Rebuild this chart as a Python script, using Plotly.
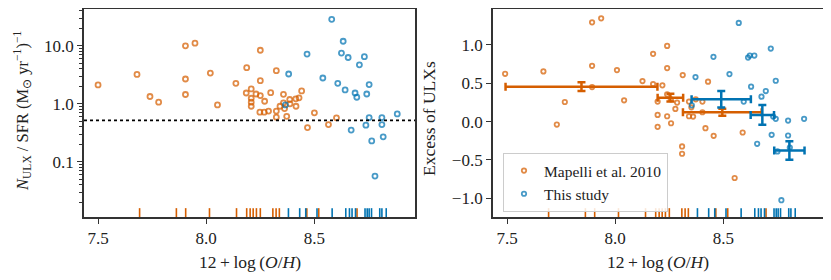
import plotly.graph_objects as go

# ---------------- data ----------------
# Left panel: N_ULX / SFR versus metallicity
m10_x_left = [7.50, 7.68, 7.74, 7.78, 7.904, 7.948, 7.904, 7.904, 8.019, 8.052,
              8.137, 8.187, 8.185, 8.208, 8.208, 8.208, 8.208, 8.23, 8.25, 8.25,
              8.25, 8.27, 8.248, 8.268, 8.288, 8.298, 8.324, 8.324, 8.324, 8.357,
              8.341, 8.357, 8.362, 8.372, 8.386, 8.387, 8.414, 8.415, 8.429, 8.441,
              8.50, 8.468, 8.565, 8.602]
m10_y_left = [2.12, 3.22, 1.34, 1.07, 10.0, 11.1, 2.68, 1.45, 3.4, 0.96,
              2.26, 4.2, 1.54, 1.81, 1.25, 1.07, 0.91, 1.48, 2.51, 8.4,
              1.39, 1.11, 0.72, 0.72, 0.75, 1.56, 3.73, 0.75, 0.59, 1.46,
              0.91, 1.04, 0.83, 0.61, 1.19, 1.0, 1.22, 0.91, 1.27, 1.67,
              0.70, 0.39, 0.44, 0.575]
this_x_left = [8.58, 8.466, 8.381, 8.366, 8.539, 8.633, 8.625, 8.656, 8.731, 8.708,
               8.608, 8.642, 8.688, 8.696, 8.753, 8.742, 8.753, 8.812, 8.883, 8.738,
               8.812, 8.67, 8.765, 8.818, 8.78]
this_y_left = [28.6, 7.2, 3.27, 0.96, 2.79, 12.0, 7.5, 6.3, 6.5, 4.7,
               2.26, 1.74, 1.54, 1.30, 2.15, 1.48, 0.58, 0.58, 0.67, 0.43,
               0.44, 0.354, 0.23, 0.27, 0.057]
threshold = 0.52

# Right panel: excess of ULXs versus metallicity
m10_x_right = [7.491, 7.668, 7.73, 7.767, 7.893, 7.935, 7.893, 7.893, 8.008, 8.041,
               8.126, 8.175, 8.175, 8.218, 8.196, 8.196, 8.196, 8.24, 8.24, 8.24,
               8.24, 8.258, 8.278, 8.286, 8.312, 8.309, 8.309, 8.341, 8.352, 8.372,
               8.403, 8.341, 8.36, 8.403, 8.429, 8.417, 8.455, 8.589, 8.552, 8.257]
m10_y_right = [0.623, 0.654, -0.039, 0.255, 1.294, 1.346, 0.727, 0.45, 0.671, 0.277,
               0.528, 0.883, 0.489, 0.472, 0.26, 0.087, -0.069, 0.987, 0.697, 0.355,
               0.069, -0.022, 0.165, 0.247, 0.606, -0.325, -0.42, 0.26, 0.186, 0.29,
               0.26, 0.069, 0.065, 0.121, 0.52, -0.087, -0.186, -0.143, -0.736, 0.29]
this_x_right = [8.571, 8.454, 8.719, 8.614, 8.622, 8.643, 8.371, 8.528, 8.742, 8.628,
                8.696, 8.676, 8.594, 8.354, 8.73, 8.742, 8.799, 8.873, 8.723, 8.799,
                8.656, 8.75, 8.807, 8.768]
this_y_right = [1.286, 0.844, 0.952, 0.835, 0.861, 0.861, 0.58, 0.619, 0.532, 0.455,
                0.398, 0.325, 0.26, 0.212, 0.065, 0.035, 0.013, 0.035, -0.173, -0.182,
                -0.29, -0.39, -0.34, -1.026]

# Binned means with errors
m10_bin_x = [7.844, 8.255, 8.495]
m10_bin_y = [0.455, 0.312, 0.121]
m10_bin_xerr = [0.351, 0.059, 0.182]
m10_bin_yerr = [0.056, 0.05, 0.045]
this_bin_x = [8.49, 8.68, 8.805]
this_bin_y = [0.29, 0.087, -0.377]
this_bin_xerr = [0.137, 0.054, 0.07]
this_bin_yerr = [0.108, 0.13, 0.12]

# Rug: metallicities of the samples
m10_rug = [7.692, 7.862, 7.905, 8.015, 8.14, 8.187, 8.203, 8.217, 8.232, 8.25,
           8.308, 8.323, 8.338, 8.465, 8.52, 8.697]
this_rug = [8.38, 8.432, 8.46, 8.512, 8.582, 8.645, 8.662, 8.674, 8.69, 8.734,
            8.744, 8.753, 8.764, 8.802, 8.812, 8.832]

x_ticks = [7.5, 8.0, 8.5]
x_tick_text = ["7.5", "8.0", "8.5"]
yl_ticks = [0.1, 1, 10]
yl_tick_text = ["0.1", "1.0", "10.0"]
yl_minor = [k * 10.0 ** e for e in (-2, -1, 0) for k in range(2, 10)] + [20, 30, 40]
yr_ticks = [-1.0, -0.5, 0.0, 0.5, 1.0]
yr_tick_text = ["\u22121.0", "\u22120.5", "0.0", "0.5", "1.0"]

x_range = [7.435, 8.965]
yl_range = [-1.95, 1.635]
yr_range = [-1.245, 1.468]

# ---------------- style ----------------
ORANGE = "rgb(213,94,0)"
BLUE = "rgb(1,115,178)"
ORANGE_M = "rgba(213,94,0,0.72)"
BLUE_M = "rgba(1,115,178,0.72)"
FONT = "Liberation Serif"
TXT = "#222222"
FRAME = "#333333"
TICK_FS = 17
TEXT_FS = 17.5
LEG_FS = 15.5
YL_FS = 16.5

OFF = 8  # page offset of the figure (body margin)
W, H = 831, 280
ML, MR, MT, MB = 84 - OFF, 831 - (824 - OFF), 9 - OFF, 280 - (217 - OFF)
PW = W - ML - MR
PH = H - MT - MB


def fx(p):
    """page x pixel -> plot-area paper fraction"""
    return (p - OFF - ML) / PW


def fy(p):
    """page y pixel -> plot-area paper fraction"""
    return (H - MB - (p - OFF)) / PH


fig = go.Figure()


def scatter(x, y, color, xa, ya, name, show, size):
    fig.add_trace(go.Scatter(
        x=x, y=y, mode="markers", name=name, showlegend=show,
        xaxis=xa, yaxis=ya,
        marker=dict(symbol="circle-open", size=size, color=color,
                    line=dict(color=color, width=1.8)),
        hoverinfo="skip"))


def rug(x, color, xa, ya):
    fig.add_trace(go.Scatter(
        x=x, y=[0.019] * len(x), mode="markers", showlegend=False,
        xaxis=xa, yaxis=ya,
        marker=dict(symbol="line-ns", size=7, color=color,
                    line=dict(color=color, width=1.6)),
        hoverinfo="skip"))


# left panel
scatter(m10_x_left, m10_y_left, ORANGE_M, "x", "y", "Mapelli et al. 2010", False, 5)
scatter(this_x_left, this_y_left, BLUE_M, "x", "y", "This study", False, 5)
fig.add_trace(go.Scatter(x=x_range, y=[threshold, threshold], mode="lines",
                         xaxis="x", yaxis="y", showlegend=False,
                         line=dict(color="black", width=1.6, dash="dot"),
                         hoverinfo="skip"))
rug(m10_rug, ORANGE, "x", "y3")
rug(this_rug, BLUE, "x", "y3")

# right panel
scatter(m10_x_right, m10_y_right, ORANGE_M, "x2", "y2", "Mapelli et al. 2010", True, 4.4)
scatter(this_x_right, this_y_right, BLUE_M, "x2", "y2", "This study", True, 4.4)
for bx, by, bxe, bye, col in [(m10_bin_x, m10_bin_y, m10_bin_xerr, m10_bin_yerr, ORANGE),
                              (this_bin_x, this_bin_y, this_bin_xerr, this_bin_yerr, BLUE)]:
    fig.add_trace(go.Scatter(
        x=bx, y=by, mode="markers", showlegend=False, xaxis="x2", yaxis="y2",
        marker=dict(size=1, color="rgba(0,0,0,0)"),
        error_x=dict(type="data", array=bxe, color=col, thickness=2.5, width=4),
        error_y=dict(type="data", array=bye, color=col, thickness=2.5, width=4),
        hoverinfo="skip"))
rug(m10_rug, ORANGE, "x2", "y4")
rug(this_rug, BLUE, "x2", "y4")

axis_common = dict(showline=True, linecolor=FRAME, linewidth=1.8, mirror=True,
                   ticks="outside", tickcolor=FRAME, tickwidth=1.4, ticklen=5,
                   showgrid=False, zeroline=False,
                   tickfont=dict(family=FONT, size=TICK_FS, color=TXT))

fig.update_layout(
    width=W, height=H,
    margin=dict(l=ML, r=MR, t=MT, b=MB, autoexpand=False),
    paper_bgcolor="white", plot_bgcolor="white",
    font=dict(family=FONT, size=TEXT_FS, color=TXT),
    xaxis=dict(domain=[0, fx(415)], range=x_range, tickmode="array",
               tickvals=x_ticks, ticktext=x_tick_text, anchor="y", **axis_common),
    yaxis=dict(domain=[0, 1], type="log", range=yl_range, tickmode="array",
               tickvals=yl_ticks, ticktext=yl_tick_text, anchor="x",
               minor=dict(tickmode="array", tickvals=yl_minor, ticks="outside",
                          ticklen=3, tickcolor=FRAME, tickwidth=1.1),
               **axis_common),
    xaxis2=dict(domain=[fx(493), 1], range=x_range, tickmode="array",
                tickvals=x_ticks, ticktext=x_tick_text, anchor="y2", **axis_common),
    yaxis2=dict(domain=[0, 1], range=yr_range, tickmode="array",
                tickvals=yr_ticks, ticktext=yr_tick_text, anchor="x2", **axis_common),
    yaxis3=dict(overlaying="y", anchor="x", range=[0, 1], visible=False),
    yaxis4=dict(overlaying="y2", anchor="x2", range=[0, 1], visible=False),
    legend=dict(x=fx(503), y=fy(153), xanchor="left", yanchor="top",
                bordercolor="#cccccc", borderwidth=1, bgcolor="rgba(255,255,255,0.85)",
                font=dict(family=FONT, size=LEG_FS, color=TXT), tracegroupgap=0,
                itemwidth=30),
)

ann = dict(showarrow=False, xref="paper", yref="paper")
xt = "12\u2009+\u2009log\u2009(<i>O</i>/<i>H</i>)"
fig.add_annotation(text=xt, x=fx(250), y=fy(262), xanchor="center", yanchor="middle",
                   font=dict(family=FONT, size=TEXT_FS, color=TXT), **ann)
fig.add_annotation(text=xt, x=fx(658), y=fy(262), xanchor="center", yanchor="middle",
                   font=dict(family=FONT, size=TEXT_FS, color=TXT), **ann)
fig.add_annotation(text="<i>N</i><sub>ULX</sub> / SFR (M<sub>\u2299</sub> yr<sup>\u22121</sup>)<sup>\u22121</sup>",
                   x=fx(22), y=fy(111), textangle=-90,
                   xanchor="center", yanchor="middle",
                   font=dict(family=FONT, size=YL_FS, color=TXT), **ann)
fig.add_annotation(text="Excess of ULXs", x=fx(429), y=fy(119),
                   textangle=-90, xanchor="center", yanchor="middle",
                   font=dict(family=FONT, size=TEXT_FS, color=TXT), **ann)

fig.write_html("out.html")
